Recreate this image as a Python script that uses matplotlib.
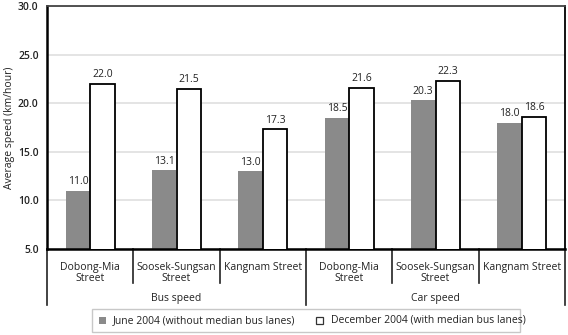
import matplotlib
matplotlib.use("Agg")
import matplotlib.pyplot as plt
from matplotlib.patches import Rectangle
import numpy as np

plt.rcParams['font.family'] = ['Open Sans', 'DejaVu Sans']

streets = ["Dobong-Mia\nStreet", "Soosek-Sungsan\nStreet", "Kangnam Street",
           "Dobong-Mia\nStreet", "Soosek-Sungsan\nStreet", "Kangnam Street"]
groups = ["Bus speed", "Car speed"]
june_2004 = [11.0, 13.1, 13.0, 18.5, 20.3, 18.0]
dec_2004 = [22.0, 21.5, 17.3, 21.6, 22.3, 18.6]
yticks = [5.0, 10.0, 15.0, 20.0, 25.0, 30.0]
series_names = ["June 2004 (without median bus lanes)",
                "December 2004 (with median bus lanes)"]

W, H = 568, 335
fig = plt.figure(figsize=(W / 100, H / 100), dpi=100)
ax = fig.add_axes([47 / W, (H - 249) / H, 518 / W, 243 / H])

x = np.arange(len(streets))
bw = 0.285
gray = "#8a8a8a"

ax.bar(x - bw / 2, june_2004, width=bw, color=gray, edgecolor="none", zorder=2)
ax.bar(x + bw / 2, dec_2004, width=bw, color="white", edgecolor="black",
       linewidth=1.3, zorder=3)

for xi, v in zip(x, june_2004):
    ax.text(xi - bw / 2, v + 0.35, f"{v:.1f}", ha="center", va="bottom",
            fontsize=7.5, color="#222222", zorder=4)
for xi, v in zip(x, dec_2004):
    ax.text(xi + bw / 2, v + 0.35, f"{v:.1f}", ha="center", va="bottom",
            fontsize=7.5, color="#222222", zorder=4)

ax.set_xlim(-0.5, len(streets) - 0.5)
ax.set_ylim(5, 30)
ax.set_yticks(yticks)
ax.set_yticklabels([f"{t:.1f}" for t in yticks], fontsize=7.5,
                   fontweight="semibold", color="#222222")
ax.tick_params(axis="y", length=0, pad=6)
ax.set_xticks([])
ax.yaxis.grid(True, color="#e2e2e2", linewidth=1.3, zorder=0)
ax.set_axisbelow(True)
for side, sp in ax.spines.items():
    sp.set_color("black")
    sp.set_linewidth(1.3)
ax.spines["left"].set_linewidth(1.8)
ax.spines["bottom"].set_linewidth(1.8)
ax.spines["top"].set_color("#444444")

ax.set_ylabel("Average speed (km/hour)", fontsize=7.5, color="#222222")
ax.yaxis.set_label_coords(-32 / 518, 0.5)

# category labels and separators under the axis
trans = ax.get_xaxis_transform()
px = 1 / 243.0
for xi, name in zip(x, streets):
    ax.text(xi, -13 * px, name, transform=trans, ha="center", va="top",
            fontsize=7.5, color="#222222", linespacing=1.05)
for b in np.arange(0.5, len(streets) - 1, 1.0):
    if b == 2.5:
        continue
    ax.plot([b, b], [0, -34 * px], transform=trans, color="#222222",
            linewidth=1.2, clip_on=False)
for b in [-0.5, 2.5, len(streets) - 0.5]:
    ax.plot([b, b], [0, -56 * px], transform=trans, color="#222222",
            linewidth=1.2, clip_on=False)
for gi, g in enumerate(groups):
    ax.text(1 + 3 * gi, -49 * px, g, transform=trans, ha="center", va="center",
            fontsize=7.5, color="#222222")

# legend
fig.patches.append(Rectangle((92 / W, (H - 332) / H), 428 / W, 23 / H,
                             transform=fig.transFigure, facecolor="white",
                             edgecolor="#c8c8c8", linewidth=1.0))
ly = (H - 320.5) / H
fig.patches.append(Rectangle((99 / W, ly - 3.5 / H), 7 / W, 7 / H,
                             transform=fig.transFigure, facecolor=gray,
                             edgecolor="none"))
fig.text(113 / W, ly, series_names[0], ha="left", va="center",
         fontsize=7.5, color="#222222")
fig.patches.append(Rectangle((316 / W, ly - 3.5 / H), 7 / W, 7 / H,
                             transform=fig.transFigure, facecolor="white",
                             edgecolor="#333333", linewidth=0.9))
fig.text(331 / W, ly, series_names[1], ha="left", va="center",
         fontsize=7.5, color="#222222")

fig.savefig("out.png", dpi=100, facecolor="white")
